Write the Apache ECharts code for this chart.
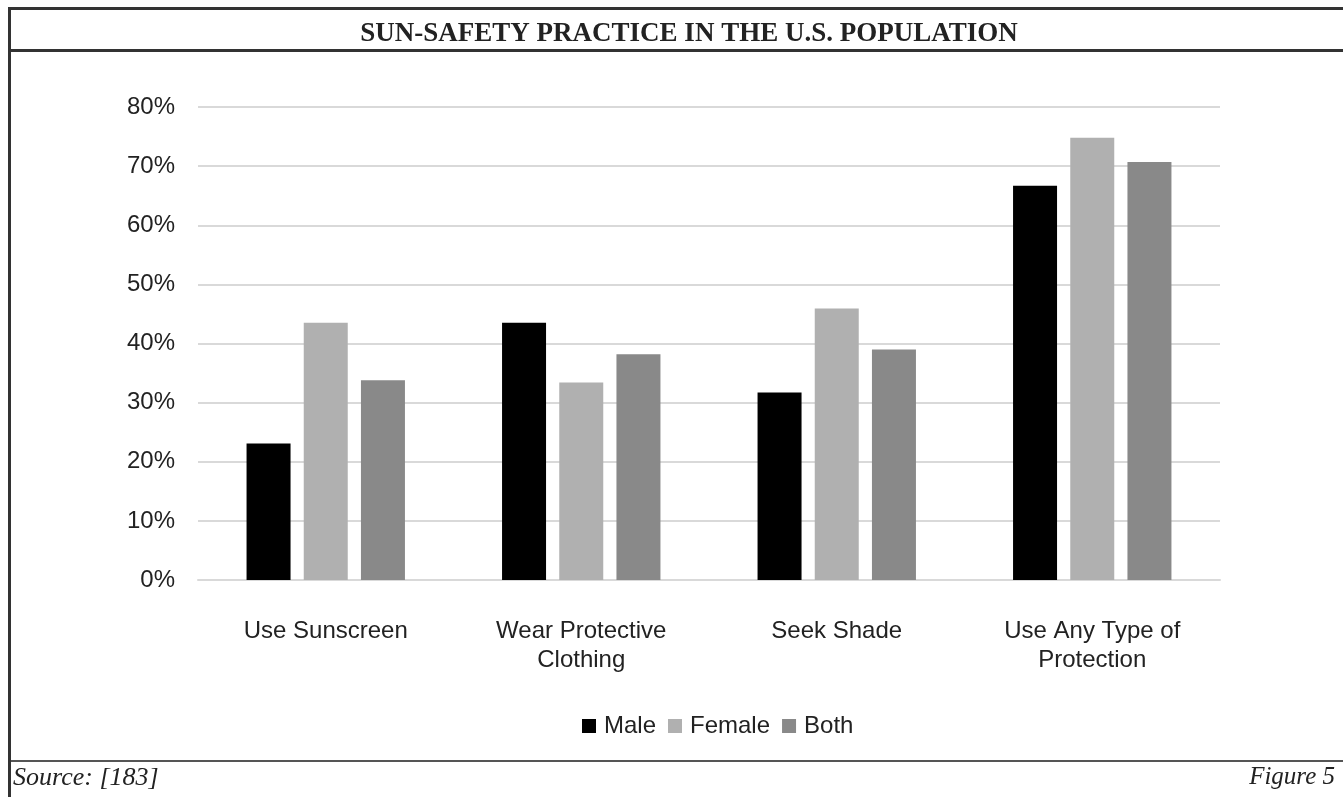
<!DOCTYPE html>
<html>
<head>
<meta charset="utf-8">
<style>
  html, body { margin: 0; padding: 0; background: #ffffff; }
  #chart { width: 1343px; height: 797px; }
</style>
<script src="https://cdn.jsdelivr.net/npm/echarts@6/dist/echarts.min.js"></script>
</head>
<body>
<div id="chart"></div>
<script>
  // data
  const categories = ['Use Sunscreen', 'Wear Protective\nClothing', 'Seek Shade', 'Use Any Type of\nProtection'];
  const male = [23.1, 43.5, 31.7, 66.7];
  const female = [43.5, 33.4, 45.9, 74.8];
  const both = [33.8, 38.2, 39.0, 70.7];
  const yTicks = [0, 10, 20, 30, 40, 50, 60, 70, 80];

  const lineColor = '#333333';
  const chart = echarts.init(document.getElementById('chart'));

  const barSeries = (name, data, color) => ({
    name: name,
    type: 'bar',
    data: data,
    barWidth: 44,
    barGap: '30%',
    itemStyle: { color: color },
    emphasis: { disabled: true }
  });

  const option = {
    animation: false,
    backgroundColor: '#ffffff',
    title: {
      text: 'SUN-SAFETY PRACTICE IN THE U.S. POPULATION',
      left: 684,
      top: 16,
      textAlign: 'center',
      textStyle: {
        fontFamily: 'Liberation Serif',
        fontWeight: 'bold',
        fontSize: 27,
        color: '#222222'
      }
    },
    graphic: [
      // frame lines
      { type: 'rect', shape: { x: 8, y: 7, width: 1335, height: 3 }, style: { fill: lineColor } },
      { type: 'rect', shape: { x: 8, y: 49, width: 1335, height: 3 }, style: { fill: lineColor } },
      { type: 'rect', shape: { x: 8, y: 760, width: 1335, height: 2 }, style: { fill: '#555555' } },
      { type: 'rect', shape: { x: 8, y: 7, width: 3, height: 790 }, style: { fill: lineColor } },
      {
        type: 'text', left: 13, top: 765,
        style: { text: 'Source: [183]', font: 'italic 26px "Liberation Serif"', fill: '#222222' }
      },
      {
        type: 'text', right: 8, top: 765,
        style: { text: 'Figure 5', font: 'italic 25px "Liberation Serif"', fill: '#222222' }
      }
    ],
    legend: {
      data: ['Male', 'Female', 'Both'],
      left: 577,
      top: 709,
      itemWidth: 14,
      itemHeight: 14,
      itemGap: 12,
      icon: 'rect',
      textStyle: { fontFamily: 'Liberation Sans', fontSize: 24, color: '#222222', padding: [0, 0, 0, 3] }
    },
    grid: {
      left: 198,
      right: 123,
      top: 107,
      bottom: 217
    },
    xAxis: {
      type: 'category',
      data: categories,
      axisLine: { show: true, lineStyle: { color: '#d9d9d9', width: 2 } },
      axisTick: { show: false },
      axisLabel: {
        margin: 37,
        fontFamily: 'Liberation Sans',
        fontSize: 24,
        lineHeight: 29,
        color: '#222222',
        interval: 0
      }
    },
    yAxis: {
      type: 'value',
      min: yTicks[0],
      max: yTicks[yTicks.length - 1],
      interval: 10,
      axisLine: { show: false },
      axisTick: { show: false },
      splitLine: { lineStyle: { color: '#d9d9d9', width: 2 } },
      axisLabel: {
        margin: 23,
        fontFamily: 'Liberation Sans',
        fontSize: 24,
        color: '#222222',
        formatter: '{value}%'
      }
    },
    series: [
      barSeries('Male', male, '#000000'),
      barSeries('Female', female, '#b0b0b0'),
      barSeries('Both', both, '#898989')
    ]
  };

  chart.setOption(option);
  window.addEventListener('resize', function () { chart.resize(); });
</script>
</body>
</html>
